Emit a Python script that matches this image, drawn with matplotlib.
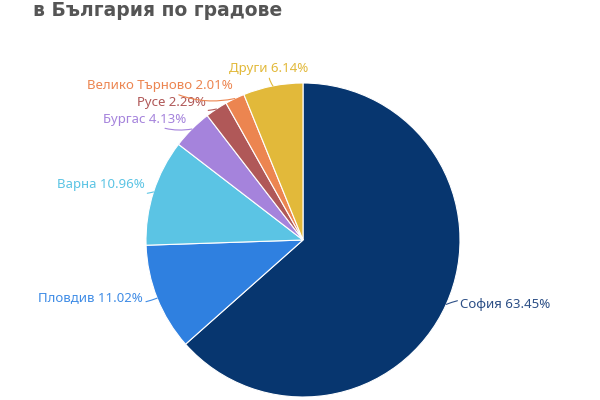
import matplotlib.pyplot as plt
import numpy as np

# data
cities = ["София", "Пловдив", "Варна", "Бургас", "Русе", "Велико Търново", "Други"]
shares = [63.45, 11.02, 10.96, 4.13, 2.29, 2.01, 6.14]
colors = ["#07366f", "#2f80e0", "#5bc4e4", "#a583dc", "#b05858", "#ec8550", "#e2b93a"]
label_colors = ["#2c4f86", "#3f8ce6", "#5bc4e4", "#a583dc", "#b05858", "#ec8550", "#e2b93a"]
title_line = "в България по градове"

# label offsets from the slice edge, in pixels (dx, dy, ha)
offsets = [(14, 0, "left"), (-14, 1, "right"), (-9, 7, "right"), (-6, 10, "right"),
           (-11, 7, "right"), (-2, 13, "right"), (-4, 17, "center")]

fig = plt.figure(figsize=(6, 4), dpi=100)
ax = fig.add_axes([0, 0, 1, 1])
R = 157.0
cx, cy = 303.0, 240.0

wedges, _ = ax.pie(shares, colors=colors, startangle=90, counterclock=False,
                   radius=1.0, wedgeprops=dict(edgecolor="white", linewidth=0.8))

ax.set_xlim(-cx / R, (600 - cx) / R)
ax.set_ylim(-(400 - cy) / R, cy / R)
ax.set_aspect("equal")
ax.axis("off")

for w, name, val, lc, (dx, dy, ha) in zip(wedges, cities, shares, label_colors, offsets):
    mid = np.deg2rad((w.theta1 + w.theta2) / 2)
    x, y = np.cos(mid), np.sin(mid)
    ax.annotate(f"{name} {val:.2f}%", xy=(x, y), xytext=(dx, dy),
                textcoords="offset pixels", ha=ha, va="center",
                fontsize=9.5, color=lc, family="Noto Sans",
                arrowprops=dict(arrowstyle="-", color=lc, lw=0.8,
                                shrinkA=0, shrinkB=0,
                                connectionstyle="arc3,rad=0.2"))

# title (only the second line is in view)
fig.text(33 / 600, 1 - 16 / 400, title_line, fontsize=13.5, fontweight="bold",
         color="#555555", ha="left", va="baseline", family="DejaVu Sans")

fig.savefig("out.png", dpi=100, facecolor="white")
